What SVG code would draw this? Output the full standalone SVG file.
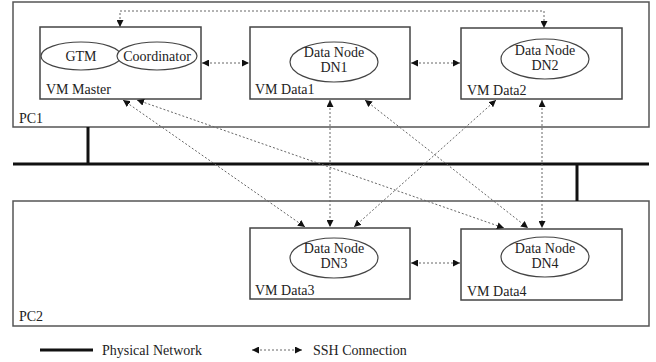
<svg xmlns="http://www.w3.org/2000/svg" width="656" height="362" viewBox="0 0 656 362" font-family="'Liberation Serif', 'Times New Roman', serif" font-size="14">
  <defs>
    <style>
      .pc { fill: #fff; stroke: #555; stroke-width: 1.5; }
      .vm { fill: #fff; stroke: #444; stroke-width: 1.5; }
      .svc { fill: #fff; stroke: #444; stroke-width: 1.2; }
      text { font-family: 'Liberation Serif', 'Times New Roman', serif; font-size: 14px; fill: #222; }
      .mid { text-anchor: middle; }
      .net { stroke: #111; stroke-width: 3; fill: none; }
      .ssh { stroke: #666; stroke-width: 1; stroke-dasharray: 2 2; fill: none; marker-start: url(#tip); marker-end: url(#tip); }
    </style>
    <marker id="tip" viewBox="0 0 10 10" refX="10" refY="5" markerWidth="7" markerHeight="7" markerUnits="userSpaceOnUse" orient="auto-start-reverse">
      <path d="M0,0 L10,5 L0,10 z" fill="#111"/>
    </marker>
  </defs>
  <rect width="656" height="362" fill="#fff"/>

  <!-- physical machines -->
  <g id="pc1">
    <rect class="pc" x="13" y="2" width="636" height="125"/>
    <text x="19" y="123">PC1</text>
  </g>
  <g id="pc2">
    <rect class="pc" x="13" y="201" width="636" height="125"/>
    <text x="19" y="321">PC2</text>
  </g>

  <!-- physical network -->
  <g id="network">
    <line class="net" x1="13" y1="164" x2="649" y2="164"/>
    <line class="net" x1="88" y1="127" x2="88" y2="164"/>
    <line class="net" x1="577" y1="164" x2="577" y2="201"/>
  </g>

  <!-- virtual machines -->
  <g id="vm-master">
    <rect class="vm" x="40" y="27" width="161" height="72"/>
    <ellipse class="svc" cx="81" cy="56" rx="40" ry="14"/>
    <text class="mid" x="81" y="61">GTM</text>
    <ellipse class="svc" cx="157" cy="56" rx="40" ry="14"/>
    <text class="mid" x="157" y="61">Coordinator</text>
    <text x="46" y="94">VM Master</text>
  </g>
  <g id="vm-data1">
    <rect class="vm" x="250" y="27" width="160" height="72"/>
    <ellipse class="svc" cx="334" cy="62" rx="44" ry="20"/>
    <text class="mid" x="334" y="57">Data Node</text>
    <text class="mid" x="334" y="72">DN1</text>
    <text x="255" y="94">VM Data1</text>
  </g>
  <g id="vm-data2">
    <rect class="vm" x="461" y="28" width="161" height="71"/>
    <ellipse class="svc" cx="545" cy="59" rx="44" ry="20"/>
    <text class="mid" x="545" y="55">Data Node</text>
    <text class="mid" x="545" y="70">DN2</text>
    <text x="467" y="95">VM Data2</text>
  </g>
  <g id="vm-data3">
    <rect class="vm" x="250" y="228" width="160" height="71"/>
    <ellipse class="svc" cx="334" cy="258" rx="44" ry="20"/>
    <text class="mid" x="334" y="253">Data Node</text>
    <text class="mid" x="334" y="268">DN3</text>
    <text x="255" y="295">VM Data3</text>
  </g>
  <g id="vm-data4">
    <rect class="vm" x="461" y="229" width="161" height="71"/>
    <ellipse class="svc" cx="545" cy="257" rx="44" ry="20"/>
    <text class="mid" x="545" y="253">Data Node</text>
    <text class="mid" x="545" y="268">DN4</text>
    <text x="467" y="296">VM Data4</text>
  </g>

  <!-- SSH connections -->
  <g id="connectors">
    <polyline class="ssh" points="120,27 120,11 544,11 544,28"/>
    <line class="ssh" x1="202" y1="63" x2="249" y2="63"/>
    <line class="ssh" x1="411" y1="63" x2="460" y2="63"/>
    <line class="ssh" x1="411" y1="263" x2="460" y2="263"/>
    <line class="ssh" x1="123" y1="100" x2="305" y2="227"/>
    <line class="ssh" x1="137" y1="100" x2="504" y2="228"/>
    <line class="ssh" x1="330" y1="100" x2="330" y2="227"/>
    <line class="ssh" x1="365" y1="100" x2="528" y2="228"/>
    <line class="ssh" x1="496" y1="100" x2="354" y2="227"/>
    <line class="ssh" x1="542" y1="100" x2="542" y2="228"/>
  </g>

  <!-- legend -->
  <g id="legend">
    <line class="net" x1="40" y1="350" x2="93" y2="350"/>
    <text x="102" y="355">Physical Network</text>
    <line class="ssh" x1="252" y1="350" x2="302" y2="350"/>
    <text x="313" y="355">SSH Connection</text>
  </g>
</svg>
